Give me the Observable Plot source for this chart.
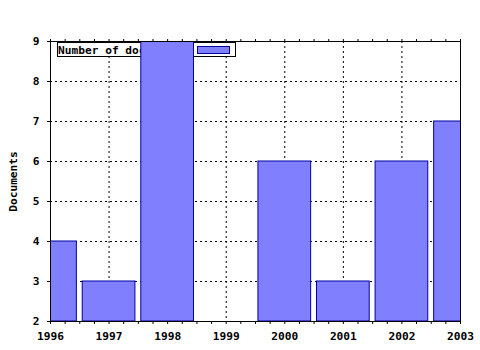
<!DOCTYPE html>
<html>
<head>
<meta charset="utf-8">
<script src="https://cdn.jsdelivr.net/npm/d3@7"></script>
<script src="https://cdn.jsdelivr.net/npm/@observablehq/plot@0.6"></script>
<style>
  html, body { margin: 0; padding: 0; background: white; }
</style>
</head>
<body>
<div id="chart"></div>
<script>
const years = [1996, 1997, 1998, 1999, 2000, 2001, 2002, 2003];
const documents = [4, 3, 9, null, 6, 3, 6, 7];
const yTicks = [2, 3, 4, 5, 6, 7, 8, 9];
const legendLabel = "Number of documents";
const yLabel = "Documents";

const data = years.map((year, i) => ({year, value: documents[i]})).filter(d => d.value != null);
const minorTicks = d3.range(1996, 2003.001, 0.25);

const barFill = "#8080ff";
const barStroke = "#0000a0";
const font = "'DejaVu Sans Mono', monospace";

const chart = Plot.plot({
  width: 480,
  height: 350,
  marginLeft: 50,
  marginRight: 20,
  marginTop: 41,
  marginBottom: 29,
  style: {fontFamily: font, fontWeight: "bold", fontSize: "11.2px", background: "white", color: "black"},
  x: {domain: [1996, 2003]},
  y: {domain: [2, 9]},
  marks: [
    Plot.gridX(years.slice(1, -1), {stroke: "black", strokeOpacity: 1, strokeDasharray: "2,3"}),
    Plot.gridY(yTicks.slice(1, -1), {stroke: "black", strokeOpacity: 1, strokeDasharray: "2,3"}),
    Plot.rectY(data, {x1: d => d.year - 0.45, x2: d => d.year + 0.45, y1: 2, y2: "value", fill: barFill, stroke: barStroke, strokeWidth: 1, clip: true}),
    Plot.frame({stroke: "black"}),
    Plot.axisX({anchor: "bottom", ticks: minorTicks, tickSize: 3, tickFormat: () => "", label: null}),
    Plot.axisX({anchor: "top", ticks: minorTicks, tickSize: 3, tickFormat: () => "", label: null}),
    Plot.axisX({anchor: "bottom", ticks: years, tickSize: 0, tickPadding: 11, tickFormat: d => String(d), label: null}),
    Plot.axisY({anchor: "left", ticks: yTicks, tickSize: 3, tickPadding: 8, tickFormat: d => String(d), label: yLabel, labelAnchor: "center", labelOffset: 41, labelArrow: "none"})
  ]
});

document.getElementById("chart").appendChild(chart);

// Legend placed beneath the bars (bars overlap it as in the reference)
let barsG = chart.querySelector(`[fill="${barFill}"]`);
while (barsG && barsG.parentNode !== chart) barsG = barsG.parentNode;
const legend = d3.create("svg:g").attr("class", "legend");
legend.append("rect").attr("x", 57.5).attr("y", 42.5).attr("width", 178).attr("height", 14)
  .attr("fill", "white").attr("stroke", "black");
legend.append("text").attr("x", 58).attr("y", 53.5).text(legendLabel)
  .attr("fill", "black").attr("text-anchor", "start")
  .style("font-family", font).style("font-weight", "bold").style("font-size", "11.2px");
legend.append("rect").attr("x", 197.5).attr("y", 46.5).attr("width", 32).attr("height", 7)
  .attr("fill", barFill).attr("stroke", barStroke);
chart.insertBefore(legend.node(), barsG || null);
</script>
</body>
</html>
